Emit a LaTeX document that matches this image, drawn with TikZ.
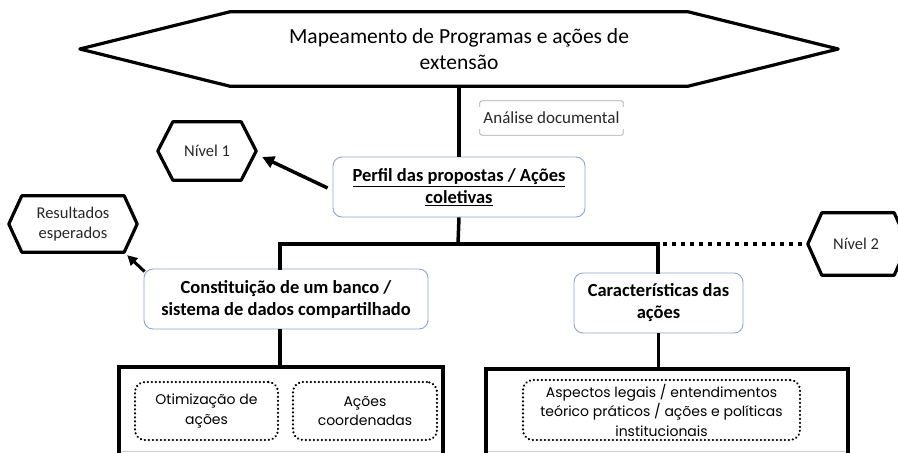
\documentclass[tikz,border=0pt]{standalone}
\usepackage{fontspec}
\setmainfont{Carlito}
\newfontfamily\gothic{Poppins}
\usetikzlibrary{arrows.meta,calc}
\definecolor{boxblue}{RGB}{140,165,210}
\definecolor{txtgray}{RGB}{40,40,40}
\newcommand\hexo[2]{\draw[hexline] (#1.west) -- ([xshift=#2]#1.north west) -- ([xshift=-#2]#1.north east) -- (#1.east) -- ([xshift=-#2]#1.south east) -- ([xshift=#2]#1.south west) -- cycle;}
\tikzset{
  conn/.style={line width=3.5pt},
  hexline/.style={line width=3.2pt, line join=round},
  hexnode/.style={inner sep=0pt, align=center, text=txtgray, font=\fontsize{16.5}{20}\selectfont},
  rbox/.style={draw=boxblue, line width=0.9pt, rounded corners=9pt, fill=white, align=center, inner sep=0pt, font=\fontsize{18.5}{22}\selectfont\bfseries},
  dbox/.style={draw, line width=2.4pt, dash pattern=on 0.1pt off 3.9pt, line cap=round, rounded corners=10pt, align=center, inner sep=0pt, font=\gothic\fontsize{14}{19.5}\selectfont, text=black},
  bigline/.style={line width=4pt},
  arrowline/.style={line width=3.5pt, -{Triangle[length=12pt,width=12pt]}},
  plain/.style={inner sep=0pt},
}
\begin{document}
\begin{tikzpicture}[x=1pt,y=-1pt]
\useasboundingbox (0,0) rectangle (898,453);
\clip (0,0) rectangle (898,453);
\fill[white] (0,0) rectangle (898,453);

% title hexagon
\node[plain, minimum width=758pt, minimum height=74pt, align=center,
      font=\fontsize{21.5}{26}\selectfont] (title) at (459,49)
      {Mapeamento de Programas e ações de\\extensão};
\hexo{title}{150pt}

% level hexagons
\node[hexnode, minimum width=98pt, minimum height=58pt] (n1) at (207,151) {Nível 1};
\hexo{n1}{15pt}
\node[hexnode, minimum width=128pt, minimum height=56pt] (res) at (73,224) {Resultados\\esperados};
\hexo{res}{13pt}
\node[hexnode, minimum width=100pt, minimum height=62pt] (n2) at (858,244) {\hspace*{-4pt}Nível 2};
\hexo{n2}{14pt}

% analise documental
\node[plain, minimum width=143pt, minimum height=34pt, text=txtgray,
      font=\fontsize{17}{20}\selectfont] (anal) at (551.5,118) {Análise documental};
\draw[gray!65, line width=0.8pt, rounded corners=2pt]
  ([yshift=-6pt]anal.north west) -- (anal.north west) -- (anal.north east) -- ([yshift=-6pt]anal.north east);
\draw[gray!65, line width=0.8pt, rounded corners=2pt]
  ([yshift=6pt]anal.south west) -- (anal.south west) -- (anal.south east) -- ([yshift=6pt]anal.south east);

% bar coordinates
\coordinate (bl) at (280,244);
\coordinate (bm) at (458,244);
\coordinate (br) at (658,244);

% main boxes
\node[rbox, minimum width=252pt, minimum height=60pt] (perfil) at (459,187)
  {\underline{Perfil das propostas / Ações}\\\underline{coletivas}};
\node[rbox, minimum width=284pt, minimum height=60pt] (constit) at (286,299)
  {Constituição de um banco /\\sistema de dados compartilhado};
\node[rbox, minimum width=169pt, minimum height=60pt] (carac) at (658.5,303)
  {Características das\\ações};

% big lower boxes
\node[plain, minimum width=324pt, minimum height=86pt] (lb) at (281,410) {};
\node[plain, minimum width=362pt, minimum height=84pt] (rb) at (667,411) {};
\draw[gray!40, line width=0.6pt] ([yshift=2pt]lb.south west) -- ([yshift=2pt]lb.south east);
\draw[gray!40, line width=0.6pt] ([yshift=2pt]rb.south west) -- ([yshift=2pt]rb.south east);
\draw[bigline] ([yshift=-10pt]lb.south west) -- (lb.north west) -- (lb.north east) -- ([yshift=-10pt]lb.south east);
\draw[bigline] ([yshift=-10pt]rb.south west) -- (rb.north west) -- (rb.north east) -- ([yshift=-10pt]rb.south east);

% dotted inner boxes
\node[dbox, minimum width=143pt, minimum height=58pt] (otim) at (206.5,411) {Otimização de\\ações};
\node[dbox, minimum width=144pt, minimum height=58pt] (coord) at (365,411) {Ações\\coordenadas};
\node[dbox, minimum width=277pt, minimum height=60pt] (asp) at (661.5,410)
  {Aspectos legais / entendimentos\\teórico práticos / ações e políticas\\institucionais};

% connectors
\draw[conn] (title.south) -- (perfil.north);
\draw[conn] (perfil.south) -- (bm);
\draw[conn, line cap=rect] (bl |- constit.north) -- (bl) -- (br) -- (br |- carac.north);
\draw[line width=4pt, dash pattern=on 4pt off 5pt] ([xshift=5pt]br) -- (n2.west);
\draw[conn] (constit.south -| bl) -- (bl |- lb.north);
\draw[conn] (carac.south) -- (carac.south |- rb.north);

% arrows
\draw[arrowline] ([xshift=-5pt,yshift=-1pt]perfil.west) -- ([xshift=6pt,yshift=-6pt]n1.east);
\draw[line width=3pt, -{Triangle[length=10pt,width=10pt]}] ([xshift=1pt,yshift=-3pt]constit.north west) -- ([xshift=-10pt,yshift=-3pt]res.south east);
\end{tikzpicture}
\end{document}
